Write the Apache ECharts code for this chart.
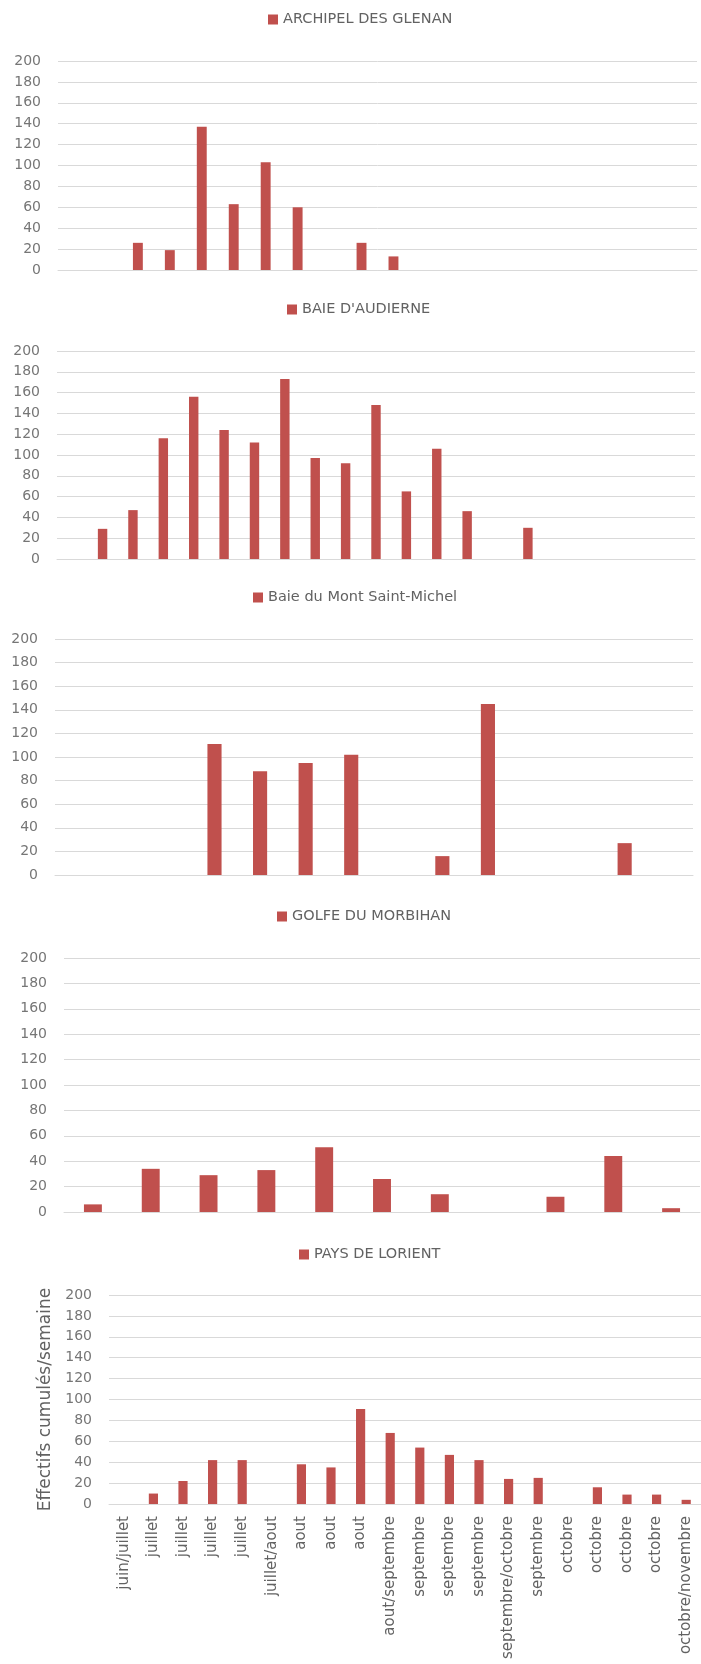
<!DOCTYPE html>
<html>
<head>
<meta charset="utf-8">
<script src="https://cdn.jsdelivr.net/npm/echarts@6/dist/echarts.min.js"></script>
<style>
  html, body { margin: 0; padding: 0; background: #ffffff; }
  #chart { width: 701px; height: 1664px; }
</style>
</head>
<body>
<div id="chart"></div>
<script>
// Weekly cumulated counts per site (one value per week; 0 = no count that week)
const glenan = [0, 0, 26, 19, 137, 63, 103, 60, 0, 26, 13, 0, 0, 0, 0, 0, 0, 0, 0, 0];
const audierne = [0, 29, 47, 116, 156, 124, 112, 173, 97, 92, 148, 65, 106, 46, 0, 30, 0, 0, 0, 0, 0];
const montSaintMichel = [0, 0, 0, 111, 88, 95, 102, 0, 16, 145, 0, 0, 27, 0];
const morbihan = [6, 34, 29, 33, 51, 26, 14, 0, 12, 44, 3];
const lorient = [0, 10, 22, 42, 42, 0, 38, 35, 91, 68, 54, 47, 42, 24, 25, 0, 16, 9, 9, 4];

// Week labels of the Lorient panel
const semainesLorient = [
  'juin/juillet', 'juillet', 'juillet', 'juillet', 'juillet', 'juillet/aout',
  'aout', 'aout', 'aout', 'aout/septembre', 'septembre', 'septembre', 'septembre',
  'septembre/octobre', 'septembre', 'octobre', 'octobre', 'octobre', 'octobre',
  'octobre/novembre'
];

// Site names shown in each legend
const sites = ['ARCHIPEL DES GLENAN', "BAIE D'AUDIERNE", 'Baie du Mont Saint-Michel', 'GOLFE DU MORBIHAN', 'PAYS DE LORIENT'];
const seriesData = [glenan, audierne, montSaintMichel, morbihan, lorient];

// Value axis range shared by all panels
const yMin = 0, yMax = 200, yStep = 20;
const yAxisTitle = 'Effectifs cumulés/semaine';

const FONT = 'DejaVu Sans';
const BAR = '#c0504d';
const GRID_LINE = '#d9d9d9';
const TICK_TEXT = '#767676';
const LABEL_TEXT = '#626262';

// Panel boxes (pixels)
const panels = [
  { left: 58,  right: 4, top: 61,   height: 209, legendLeft: 268, legendTop: 12 },
  { left: 57,  right: 6, top: 351,  height: 208, legendLeft: 287, legendTop: 302 },
  { left: 55,  right: 8, top: 639,  height: 236, legendLeft: 253, legendTop: 590 },
  { left: 64,  right: 1, top: 958,  height: 254, legendLeft: 277, legendTop: 909 },
  { left: 109, right: 0, top: 1295, height: 209, legendLeft: 299, legendTop: 1247 }
];

const option = {
  animation: false,
  backgroundColor: '#ffffff',
  textStyle: { fontFamily: FONT },
  grid: panels.map(p => ({ left: p.left, right: p.right, top: p.top, height: p.height, containLabel: false })),
  legend: panels.map((p, i) => ({
    data: [sites[i]],
    left: p.legendLeft,
    top: p.legendTop,
    padding: 0,
    icon: 'rect',
    itemWidth: 10,
    itemHeight: 10,
    selectedMode: false,
    textStyle: { fontFamily: FONT, fontSize: 14.5, color: LABEL_TEXT }
  })),
  xAxis: panels.map((p, i) => {
    const last = i === panels.length - 1;
    return {
      type: 'category',
      gridIndex: i,
      data: last ? semainesLorient : undefined,
      axisLine: { show: true, lineStyle: { color: GRID_LINE, width: 1 } },
      axisTick: { show: false },
      axisLabel: last ? {
        show: true, interval: 0, rotate: 90, margin: 12,
        fontFamily: FONT, fontSize: 15, color: LABEL_TEXT
      } : { show: false },
      splitLine: { show: false }
    };
  }),
  yAxis: panels.map((p, i) => {
    const last = i === panels.length - 1;
    return {
      type: 'value',
      gridIndex: i,
      min: yMin, max: yMax, interval: yStep,
      axisLine: { show: false },
      axisTick: { show: false },
      axisLabel: { fontFamily: FONT, fontSize: 14, color: TICK_TEXT, margin: 17 },
      splitLine: { lineStyle: { color: GRID_LINE, width: 1 } },
      name: last ? yAxisTitle : '',
      nameLocation: 'middle',
      nameRotate: 90,
      nameGap: 54,
      nameTextStyle: { fontFamily: FONT, fontSize: 17, color: LABEL_TEXT }
    };
  }),
  series: seriesData.map((d, i) => ({
    name: sites[i],
    type: 'bar',
    xAxisIndex: i,
    yAxisIndex: i,
    data: d,
    barWidth: '31%',
    itemStyle: { color: BAR }
  }))
};

const chart = echarts.init(document.getElementById('chart'), null, { renderer: 'canvas' });
chart.setOption(option);
</script>
</body>
</html>
